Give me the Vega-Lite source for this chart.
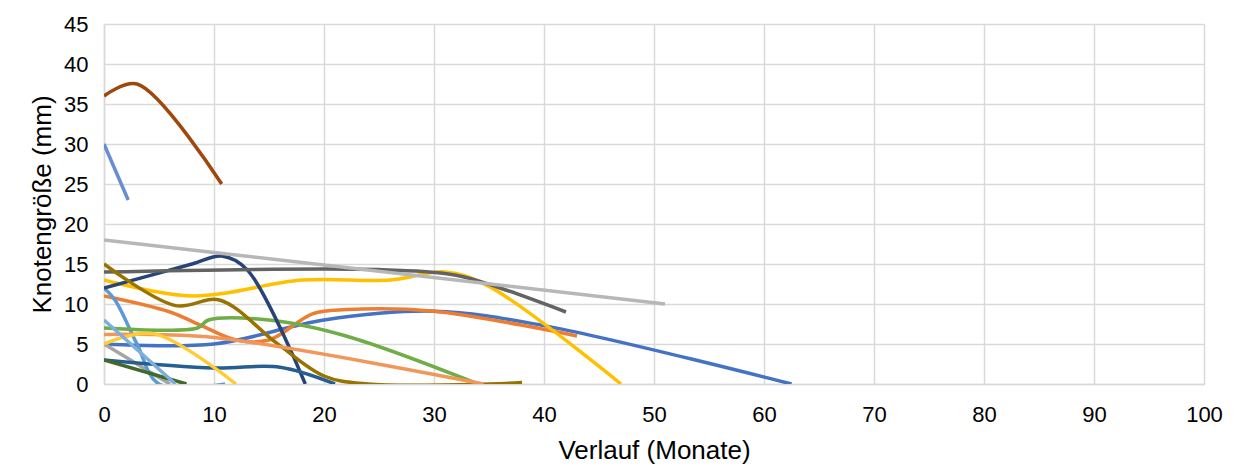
{
  "$schema": "https://vega.github.io/schema/vega-lite/v6.json",
  "width": 1100,
  "height": 360,
  "autosize": "none",
  "padding": {"left": 104, "top": 24, "right": 35, "bottom": 84},
  "background": "white",
  "data": {"values": [
    {"s": "s01", "x": 0, "y": 5}, {"s": "s01", "x": 10, "y": 5}, {"s": "s01", "x": 20, "y": 8}, {"s": "s01", "x": 30, "y": 9.1}, {"s": "s01", "x": 40, "y": 7.3}, {"s": "s01", "x": 62.5, "y": 0},
    {"s": "s02", "x": 0, "y": 11}, {"s": "s02", "x": 6, "y": 9}, {"s": "s02", "x": 9, "y": 7.2}, {"s": "s02", "x": 12, "y": 5.5}, {"s": "s02", "x": 15, "y": 5.5}, {"s": "s02", "x": 19, "y": 8.8}, {"s": "s02", "x": 22, "y": 9.3}, {"s": "s02", "x": 30, "y": 9.1}, {"s": "s02", "x": 43, "y": 6},
    {"s": "s03", "x": 0, "y": 5}, {"s": "s03", "x": 3, "y": 2.5}, {"s": "s03", "x": 6, "y": 0},
    {"s": "s04", "x": 0, "y": 13}, {"s": "s04", "x": 8, "y": 11}, {"s": "s04", "x": 18, "y": 13}, {"s": "s04", "x": 26, "y": 13}, {"s": "s04", "x": 31, "y": 14}, {"s": "s04", "x": 35, "y": 12.2}, {"s": "s04", "x": 47, "y": 0},
    {"s": "s05", "x": 0, "y": 12}, {"s": "s05", "x": 1, "y": 10.5}, {"s": "s05", "x": 3, "y": 5}, {"s": "s05", "x": 5, "y": 0}, {"s": "s05", "x": 11, "y": 0},
    {"s": "s06", "x": 0, "y": 7}, {"s": "s06", "x": 8.5, "y": 7}, {"s": "s06", "x": 9.5, "y": 8}, {"s": "s06", "x": 15, "y": 8}, {"s": "s06", "x": 22, "y": 6}, {"s": "s06", "x": 34, "y": 0},
    {"s": "s07", "x": 0, "y": 12}, {"s": "s07", "x": 8, "y": 15}, {"s": "s07", "x": 10.7, "y": 16}, {"s": "s07", "x": 13, "y": 14.3}, {"s": "s07", "x": 18.3, "y": 0},
    {"s": "s08", "x": 0, "y": 36}, {"s": "s08", "x": 3, "y": 37.5}, {"s": "s08", "x": 10.7, "y": 25},
    {"s": "s09", "x": 0, "y": 14}, {"s": "s09", "x": 25, "y": 14.3}, {"s": "s09", "x": 32, "y": 13.6}, {"s": "s09", "x": 36, "y": 12}, {"s": "s09", "x": 42, "y": 9},
    {"s": "s10", "x": 0, "y": 15}, {"s": "s10", "x": 6.5, "y": 9.8}, {"s": "s10", "x": 10.5, "y": 10.5}, {"s": "s10", "x": 15.7, "y": 5.1}, {"s": "s10", "x": 20, "y": 1}, {"s": "s10", "x": 24, "y": 0}, {"s": "s10", "x": 35, "y": 0}, {"s": "s10", "x": 38, "y": 0.2},
    {"s": "s11", "x": 0, "y": 3}, {"s": "s11", "x": 10, "y": 2}, {"s": "s11", "x": 16, "y": 2.1}, {"s": "s11", "x": 21, "y": 0},
    {"s": "s12", "x": 0, "y": 3}, {"s": "s12", "x": 7.5, "y": 0},
    {"s": "s13", "x": 0, "y": 30}, {"s": "s13", "x": 2.2, "y": 23},
    {"s": "s14", "x": 0, "y": 6.2}, {"s": "s14", "x": 10, "y": 5.8}, {"s": "s14", "x": 34.5, "y": 0},
    {"s": "s15", "x": 0, "y": 18}, {"s": "s15", "x": 51, "y": 10},
    {"s": "s16", "x": 0, "y": 5}, {"s": "s16", "x": 4.5, "y": 6.3}, {"s": "s16", "x": 12, "y": 0},
    {"s": "s17", "x": 0, "y": 8}, {"s": "s17", "x": 6.5, "y": 0}
  ]},
  "mark": {"type": "line", "interpolate": "catmull-rom", "strokeWidth": 3.5, "clip": true},
  "encoding": {
    "x": {"field": "x", "type": "quantitative", "scale": {"domain": [0, 100], "nice": false},
      "axis": {"title": "Verlauf (Monate)", "values": [0,10,20,30,40,50,60,70,80,90,100], "labelOverlap": false, "labelFlush": false}},
    "y": {"field": "y", "type": "quantitative", "scale": {"domain": [0, 45], "nice": false},
      "axis": {"title": "Knotengröße (mm)", "values": [0,5,10,15,20,25,30,35,40,45], "labelOverlap": false}},
    "color": {"field": "s", "type": "nominal", "legend": null,
      "scale": {"domain": ["s01","s02","s03","s04","s05","s06","s07","s08","s09","s10","s11","s12","s13","s14","s15","s16","s17"],
        "range": ["#4472C4","#ED7D31","#A5A5A5","#FFC000","#5B9BD5","#70AD47","#264478","#9E480E","#636363","#997300","#255E91","#43682B","#698ED0","#F1975A","#B7B7B7","#FFCD33","#7CAFDD"]}}
  },
  "config": {
    "font": "Liberation Sans",
    "view": {"stroke": null},
    "axis": {
      "grid": true, "gridColor": "#D9D9D9", "gridWidth": 1.5,
      "domainColor": "#D9D9D9", "domainWidth": 1.5,
      "ticks": false,
      "labelFont": "Liberation Sans", "labelFontSize": 22, "labelColor": "#000000",
      "titleFont": "Liberation Sans", "titleFontSize": 26, "titleFontWeight": "normal", "titleColor": "#000000"
    },
    "axisX": {"labelPadding": 20, "titlePadding": 12},
    "axisY": {"labelPadding": 16, "titlePadding": 8}
  }
}
